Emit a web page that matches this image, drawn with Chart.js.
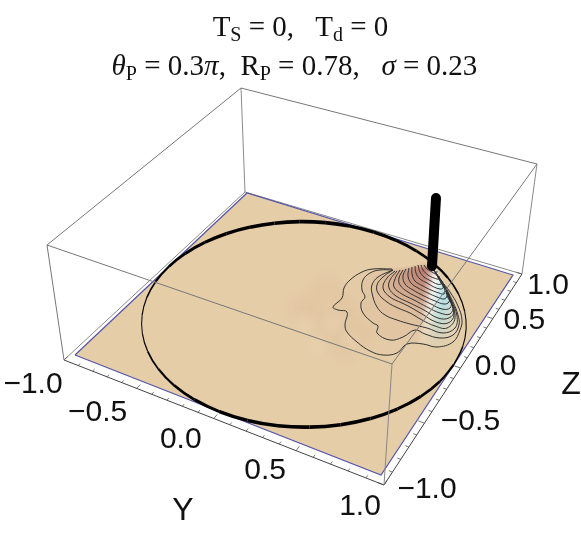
<!DOCTYPE html>
<html lang="en">
<head>
    <meta charset="UTF-8">
    <title>Probability surface</title>
    <script src="https://cdn.jsdelivr.net/npm/chart.js"></script>
    <style>
        body { margin: 0; background: #fff; }
        #wrap { position: relative; width: 581px; height: 535px; overflow: hidden; }
        canvas { position: absolute; left: 0; top: 0; }
        .title { position: absolute; width: 581px; text-align: center; white-space: pre;
                 font-family: "Liberation Serif", serif; font-size: 29px; color: #111; line-height: 34px; }
        .title sub { font-size: 20px; vertical-align: baseline; position: relative; top: 5px; line-height: 0; }
    </style>
</head>
<body>
<div id="wrap">
    <canvas id="surfaceChart" width="581" height="535"></canvas>
    <div class="title" style="left:10px;top:9px">T<sub>S</sub> = 0,   T<sub>d</sub> = 0</div>
    <div class="title" style="left:4px;top:48px"><i>θ</i><sub>P</sub> = 0.3<i>π</i>,  R<sub>P</sub> = 0.78,   <i>σ</i> = 0.23</div>
</div>

<script>
    // Axis ticks and labels
    const yTicks = [-1, -0.5, 0, 0.5, 1];
    const zTicks = [-1, -0.5, 0, 0.5, 1];
    const yTickLabels = ['−1.0', '−0.5', '0.0', '0.5', '1.0'];
    const zTickLabels = ['−1.0', '−0.5', '0.0', '0.5', '1.0'];
    const minorTicks = [-0.9, -0.8, -0.7, -0.6, -0.4, -0.3, -0.2, -0.1, 0.1, 0.2, 0.3, 0.4, 0.6, 0.7, 0.8, 0.9];

    // Unit circle on the floor, (Y, Z)
    const circleY = [1, .985, .94, .866, .766, .643, .5, .342, .174, 0, -.174, -.342, -.5, -.643, -.766, -.866, -.94, -.985,
        -1, -.985, -.94, -.866, -.766, -.643, -.5, -.342, -.174, 0, .174, .342, .5, .643, .766, .866, .94, .985, 1];
    const circleZ = [0, .174, .342, .5, .643, .766, .866, .94, .985, 1, .985, .94, .866, .766, .643, .5, .342, .174,
        0, -.174, -.342, -.5, -.643, -.766, -.866, -.94, -.985, -1, -.985, -.94, -.866, -.766, -.643, -.5, -.342, -.174, 0];

    const contourLines = [
        [[392,269],[373,269],[362,272],[350,280],[344,288],[342,298],[333,307],[338,310],[347,312],[345,325],[347,332],[357,342],[370,351],[383,355],[397,353],[407,344],[423,344],[437,347],[453,342],[460,330],[462,320],[458,306],[450,292],[440,279],[433,269]],
        [[393,270],[380,270],[370,273],[363,280],[362,290],[365,297],[361,303],[363,313],[373,323],[378,326],[377,333],[390,340],[403,337],[415,330],[425,334],[440,338],[453,335],[459,325],[458,315],[453,302],[443,283],[433,269]],
        [[393,270],[378,277],[372,285],[372,293],[377,307],[385,315],[397,320],[410,324],[427,328],[443,333],[455,328],[457,316],[451,300],[442,282],[433,269]],
        [[393,270],[383,277],[377,285],[378,293],[387,302],[398,308],[410,313],[422,320],[435,326],[447,328],[455,318],[450,299],[441,282],[433,269]],
        [[395,271],[387,278],[383,288],[390,297],[402,303],[410,307],[422,314],[436,322],[448,323],[454,315],[449,298],[440,281],[433,269]],
        [[397,271],[390,280],[389,288],[396,296],[410,303],[424,310],[438,318],[449,318],[454,311],[447,296]],
        [[400,270],[395,279],[394,287],[402,294],[414,300],[427,307],[440,313],[450,314],[453,306],[446,293]],
        [[403,270],[399,278],[400,285],[408,292],[419,298],[431,304],[442,309],[450,308],[451,300],[445,290]],
        [[406,269],[403,276],[405,284],[413,290],[424,296],[435,301],[444,304],[449,302],[449,295],[444,287]],
        [[409,268],[408,276],[411,283],[418,288],[428,293],[437,297],[444,299],[447,296],[446,290]],
        [[412,267],[412,274],[415,281],[423,286],[431,290],[439,293],[444,294],[445,290],[444,285]],
        [[415,266],[416,273],[420,279],[427,283],[434,287],[440,289],[443,288],[443,284]],
        [[418,265],[420,272],[424,277],[431,281],[437,284],[441,284],[441,280]],
        [[421,265],[423,270],[428,275],[434,278],[439,279],[439,276]],
        [[424,265],[427,269],[432,272],[436,274],[437,271]],
        [[428,265],[431,268],[435,269]]
    ];
    const peakX = 433, peakY = 267;

    // Faint mottling of the density around the peak
    const mottleX = [327, 320, 340, 312, 352, 333, 300, 365, 345];
    const mottleY = [287, 317, 300, 300, 320, 335, 310, 335, 350];
    const paleX = [331, 305, 318, 350];
    const paleY = [325, 322, 345, 340];

    // Spike standing on the peak
    const spikeX = [436, 432];
    const spikeY = [198, 266];

    // Box corners on the view plane
    const topBack = [241, 88], topLeft = [47, 245], topFront = [392, 364], topRight = [537, 164];
    const botBack = [245, 192], botLeft = [64, 360], botFront = [384, 485], botRight = [522, 274];
    // Floor inside the tick strip
    const floorBack = [247, 193], floorLeft = [75, 355], floorFront = [381, 475], floorRight = [513, 275];

    // Y,Z in -1..1 to the view plane through the four corners of a quad
    function makeProjection(p0, p1, p2, p3) {
        const dx1 = p1[0] - p2[0], dx2 = p3[0] - p2[0], sx = p0[0] - p1[0] + p2[0] - p3[0];
        const dy1 = p1[1] - p2[1], dy2 = p3[1] - p2[1], sy = p0[1] - p1[1] + p2[1] - p3[1];
        const den = dx1 * dy2 - dx2 * dy1;
        const g = (sx * dy2 - dx2 * sy) / den, h = (dx1 * sy - sx * dy1) / den;
        const a = p1[0] - p0[0] + g * p1[0], b = p3[0] - p0[0] + h * p3[0];
        const d = p1[1] - p0[1] + g * p1[1], e = p3[1] - p0[1] + h * p3[1];
        return function(y, z) {
            const u = (y + 1) / 2, v = (z + 1) / 2, w = g * u + h * v + 1;
            return { x: (a * u + b * v + p0[0]) / w, y: (d * u + e * v + p0[1]) / w };
        };
    }
    const onFloor = makeProjection(floorLeft, floorFront, floorRight, floorBack);
    const onOuter = makeProjection(botLeft, botFront, botRight, botBack);

    const toPoint = p => ({ x: p[0], y: p[1] });
    const gap = { x: NaN, y: NaN };
    const datasets = [];
    function addLine(points, color, width, extra) {
        datasets.push(Object.assign({
            data: points, showLine: true, borderColor: color, borderWidth: width,
            pointRadius: 0, tension: 0, fill: false
        }, extra));
    }
    function addEdge(a, b, color) {
        addLine([toPoint(a), toPoint(b)], color, 1);
    }
    function addBlobs(xs, ys, color, radius) {
        datasets.push({
            data: xs.map((x, i) => ({ x: x, y: ys[i] })), showLine: false,
            pointRadius: radius, pointBorderWidth: 0, pointBackgroundColor: color, blurPoints: true
        });
    }

    // Back edges first, everything in front goes later
    addEdge(botLeft, botBack, '#8a8a8a');
    addEdge(botBack, botRight, '#8a8a8a');
    addEdge(topBack, botBack, '#8a8a8a');

    // Floor
    addLine([floorLeft, floorFront, floorRight, floorBack, floorLeft].map(toPoint), '#5555aa', 1.2,
        { fill: 'shape', backgroundColor: '#e5cda8' });

    addBlobs(mottleX, mottleY, 'rgba(205,150,110,0.08)', 11);
    addBlobs(paleX, paleY, 'rgba(240,220,190,0.25)', 8);

    // Shading of the peak: nested translucent bands add up towards the top
    function bandGradient(k) {
        const a = 0.02 + 0.012 * k;
        return function(context) {
            const chart = context.chart, sx = chart.scales.x, sy = chart.scales.y;
            if (!sx || !sx.width) return 'rgba(0,0,0,0)';
            const g = chart.ctx.createLinearGradient(sx.getPixelForValue(388), sy.getPixelForValue(272),
                sx.getPixelForValue(465), sy.getPixelForValue(287));
            g.addColorStop(0, 'rgba(175,100,95,' + a + ')');
            g.addColorStop(0.46, 'rgba(175,100,95,' + a + ')');
            g.addColorStop(0.6, 'rgba(255,252,248,' + (a + 0.13) + ')');
            g.addColorStop(0.76, 'rgba(170,228,242,' + (a + 0.12) + ')');
            g.addColorStop(1, 'rgba(240,235,225,' + (a + 0.08) + ')');
            return g;
        };
    }
    contourLines.forEach(function(line, k) {
        const ring = line.map(toPoint).concat([{ x: peakX, y: peakY }]);
        ring.push(ring[0]);
        addLine(ring, 'rgba(0,0,0,0)', 0, { fill: 'shape', backgroundColor: bandGradient(k), softFill: true });
    });

    // Circle, heavier where it runs across the view
    const circlePoints = circleY.map((y, i) => onFloor(y, circleZ[i]));
    addLine(circlePoints, '#000', 2, {
        tension: 0.4,
        segment: {
            borderWidth: function(ctx) {
                const dx = ctx.p1.parsed.x - ctx.p0.parsed.x, dy = ctx.p1.parsed.y - ctx.p0.parsed.y;
                const across = Math.abs(dx) / Math.hypot(dx, dy);
                return 1 + 2.6 * across * across;
            }
        }
    });

    contourLines.forEach(function(line) {
        addLine(line.map(toPoint), '#333', 1, { tension: 0.4 });
    });

    // Spike
    addLine(spikeX.map((x, i) => ({ x: x, y: spikeY[i] })), '#000', 10, { borderCapStyle: 'round' });

    // Tick marks in the strip along the two front edges
    const tickMarks = [];
    function addTick(from, to) {
        tickMarks.push(from, to, gap);
    }
    yTicks.forEach(t => addTick(onOuter(t, -1), onOuter(t, -0.965)));
    minorTicks.forEach(t => addTick(onOuter(t, -1), onOuter(t, -0.98)));
    zTicks.forEach(t => addTick(onOuter(1, t), onOuter(0.965, t)));
    minorTicks.forEach(t => addTick(onOuter(1, t), onOuter(0.98, t)));
    addLine(tickMarks, '#555', 0.8);

    // Front edges of the box
    addEdge(botLeft, botFront, '#444');
    addEdge(botFront, botRight, '#444');
    addEdge(topBack, topLeft, '#777');
    addEdge(topBack, topRight, '#777');
    addEdge(topLeft, botLeft, '#777');
    addEdge(topRight, botRight, '#8a8a8a');
    addEdge(topLeft, topFront, '#777');
    addEdge(topFront, topRight, '#777');
    addEdge(topFront, botFront, '#888');

    // later datasets on top
    datasets.forEach((ds, i) => { ds.order = datasets.length - i; });

    // Label centre relative to its tick on the edge
    const yLabelNudge = [[-31, 25], [-39, 24], [-33, 21], [-31, 20], [-24, 22]];
    const zLabelNudge = [[43, 5], [46, -1], [35, -1.5], [31.5, 2], [26, 12]];

    const axisText = {
        id: 'axisText',
        afterDatasetsDraw(chart) {
            const ctx = chart.ctx, sx = chart.scales.x, sy = chart.scales.y;
            ctx.save();
            ctx.fillStyle = '#111';
            ctx.textAlign = 'center';
            ctx.textBaseline = 'middle';
            ctx.font = '30px "Liberation Sans"';
            yTicks.forEach(function(t, i) {
                const p = onOuter(t, -1);
                ctx.fillText(yTickLabels[i], sx.getPixelForValue(p.x + yLabelNudge[i][0]), sy.getPixelForValue(p.y + yLabelNudge[i][1]));
            });
            zTicks.forEach(function(t, i) {
                const p = onOuter(1, t);
                ctx.fillText(zTickLabels[i], sx.getPixelForValue(p.x + zLabelNudge[i][0]), sy.getPixelForValue(p.y + zLabelNudge[i][1]));
            });
            ctx.font = '32px "Liberation Sans"';
            ctx.fillText('Y', sx.getPixelForValue(183), sy.getPixelForValue(511));
            ctx.fillText('Z', sx.getPixelForValue(571), sy.getPixelForValue(385));
            ctx.restore();
        }
    };

    // Soft edges for the shading. The filler paints before this plugin's
    // per-dataset hook, so the blur is switched on after the previous dataset.
    const softShading = {
        id: 'softShading',
        beforeDatasetDraw(chart, args) {
            if (args.meta._dataset.blurPoints) chart.ctx.filter = 'blur(5px)';
        },
        afterDatasetDraw(chart, args) {
            const next = chart.data.datasets[args.index + 1];
            chart.ctx.filter = next && next.softFill ? 'blur(1.5px)' : 'none';
        }
    };

    new Chart(document.getElementById('surfaceChart'), {
        type: 'scatter',
        data: { datasets: datasets },
        options: {
            responsive: false,
            animation: false,
            devicePixelRatio: 1,
            layout: { padding: 0, autoPadding: false },
            plugins: { legend: { display: false }, tooltip: { enabled: false } },
            scales: {
                x: { type: 'linear', min: 0, max: 581, display: false },
                y: { type: 'linear', min: 0, max: 535, reverse: true, display: false }
            }
        },
        plugins: [softShading, axisText]
    });
</script>
</body>
</html>
